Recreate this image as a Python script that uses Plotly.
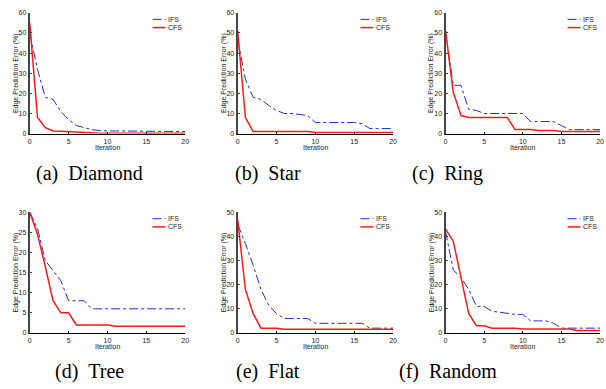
import plotly.graph_objects as go

W, H = 606, 389

iterations = list(range(21))

captions = ["(a)\u00a0\u00a0Diamond", "(b)\u00a0\u00a0Star", "(c)\u00a0\u00a0Ring",
            "(d)\u00a0\u00a0Tree", "(e)\u00a0\u00a0Flat", "(f)\u00a0\u00a0Random"]

ifs_diamond = [50, 32, 18, 17, 11, 7, 4, 3, 2, 1.5, 1.3, 1.3, 1.3, 1.3, 1.3, 1.3, 1.3, 1.3, 1.2, 1.1, 1]
cfs_diamond = [55, 8, 3, 1.3, 1.2, 1, 0.5, 0.3, 0.2, 0.2, 0.2, 0.2, 0.2, 0.2, 0.2, 0.2, 0.2, 0.2, 0.2, 0.2, 0.2]

ifs_star = [47, 27, 18, 17, 14, 11.5, 10, 10, 9.5, 9, 5.5, 5.5, 5.5, 5.5, 5.5, 5.5, 5, 2.5, 2.5, 2.5, 2.5]
cfs_star = [51, 8, 1, 1, 1, 1, 1, 1, 1, 1, 0.5, 0.5, 0.5, 0.5, 0.5, 0.5, 0.5, 0.5, 0.5, 0.5, 0.5]

ifs_ring = [50, 24, 24, 12, 11.5, 10, 10, 10, 10, 10, 10, 6, 6, 6, 6, 4, 2, 2, 2, 2, 2]
cfs_ring = [51, 20.5, 9, 8, 8, 8, 8, 8, 8, 2, 2, 2, 1.5, 1.5, 1.5, 1, 1, 1, 1, 1, 1]

ifs_tree = [30, 26, 18, 15.5, 13, 8, 8, 8, 6, 6, 6, 6, 6, 6, 6, 6, 6, 6, 6, 6, 6]
cfs_tree = [30, 24.5, 16.5, 8, 5, 5, 2, 2, 2, 2, 2, 1.7, 1.7, 1.7, 1.7, 1.7, 1.7, 1.7, 1.7, 1.7, 1.7]

ifs_flat = [45, 37, 28, 18, 11.5, 8, 6, 6, 6, 6, 4, 4, 4, 4, 4, 4, 4, 2, 2, 2, 2]
cfs_flat = [47, 18, 8, 2, 2, 2, 1.5, 1.5, 1.5, 1.5, 1.5, 1.5, 1.5, 1.5, 1.5, 1.5, 1.5, 1.5, 1.5, 1.5, 1.5]

ifs_random = [42, 26, 23, 18, 11, 11, 9, 8.5, 8, 7.7, 7.7, 5, 5, 5, 4, 2, 2, 2, 2, 2, 2]
cfs_random = [43, 38, 23, 8, 3, 3, 2, 2, 2, 2, 1.6, 1.6, 1.6, 1.6, 1.6, 1.6, 1.6, 1, 1, 1, 1]

ifs_series = [ifs_diamond, ifs_star, ifs_ring, ifs_tree, ifs_flat, ifs_random]
cfs_series = [cfs_diamond, cfs_star, cfs_ring, cfs_tree, cfs_flat, cfs_random]
y_max = [60, 60, 60, 30, 50, 50]
y_dtick = [10, 10, 10, 5, 10, 10]
x_ticks = [0, 5, 10, 15, 20]

# layout in pixels
col_px = [(28, 185), (238, 395), (448, 604)]
row_px = [(9, 132), (212, 335)]
caption_x = [88, 269, 450]
caption_y = [173, 374]
xtitle_y = [146, 349]

def px(x):
    return x / W

def py(y):
    return 1 - y / H

BLUE = "#1f2fd0"
RED = "#ff1a1a"
SANS = "Liberation Sans, Arial, sans-serif"
SERIF = "Liberation Serif, Times New Roman, serif"

fig = go.Figure()
annotations = []
shapes = []

for i in range(6):
    r, c = divmod(i, 3)
    n = i + 1
    xa = "x" if n == 1 else f"x{n}"
    ya = "y" if n == 1 else f"y{n}"
    fig.add_trace(go.Scatter(x=iterations, y=ifs_series[i], mode="lines",
                             line=dict(color=BLUE, width=1, dash="dashdot"),
                             xaxis=xa, yaxis=ya, showlegend=False, cliponaxis=True))
    fig.add_trace(go.Scatter(x=iterations, y=cfs_series[i], mode="lines",
                             line=dict(color=RED, width=1.5),
                             xaxis=xa, yaxis=ya, showlegend=False, cliponaxis=True))
    x0, x1 = col_px[c]
    y0, y1 = row_px[r]
    xkey = "xaxis" if n == 1 else f"xaxis{n}"
    ykey = "yaxis" if n == 1 else f"yaxis{n}"
    fig.update_layout(**{
        xkey: dict(domain=[px(x0), px(x1)], range=[0, 20], tickvals=x_ticks,
                   anchor=ya, showgrid=False, zeroline=False, showline=True,
                   linecolor="black", linewidth=1.5, ticks="inside", ticklen=2,
                   tickcolor="black", tickfont=dict(family=SANS, size=7, color="#222"),
                   fixedrange=True),
        ykey: dict(domain=[py(y1), py(y0)], range=[0, y_max[i]], dtick=y_dtick[i],
                   anchor=xa, showgrid=False, zeroline=False, showline=True,
                   linecolor="#444", linewidth=2, ticks="inside", ticklen=2,
                   tickcolor="#444", tickfont=dict(family=SANS, size=7, color="#222"),
                   fixedrange=True),
    })
    # axis titles
    annotations.append(dict(x=px(x0 - 14), y=py((y0 + y1) / 2), xref="paper", yref="paper",
                            text="Edge Prediction Error (%)", textangle=-90, showarrow=False,
                            font=dict(family=SANS, size=7, color="#222"),
                            xanchor="center", yanchor="middle"))
    annotations.append(dict(x=px((x0 + x1) / 2), y=py(xtitle_y[r]), xref="paper", yref="paper",
                            text="Iteration", showarrow=False,
                            font=dict(family=SANS, size=7, color="#222"),
                            xanchor="center", yanchor="middle"))
    # caption
    annotations.append(dict(x=px(caption_x[c]), y=py(caption_y[r]), xref="paper", yref="paper",
                            text=captions[i], showarrow=False,
                            font=dict(family=SERIF, size=20, color="black"),
                            xanchor="center", yanchor="middle"))
    # legend
    for lbl, color, dash, width, ly in [("IFS", BLUE, "dashdot", 1, 0.946),
                                        ("CFS", RED, "solid", 1.5, 0.878)]:
        shapes.append(dict(type="line", xref=f"{xa} domain", yref=f"{ya} domain",
                           x0=0.79, x1=0.873, y0=ly, y1=ly,
                           line=dict(color=color, width=width, dash=dash)))
        annotations.append(dict(x=0.879, y=ly, xref=f"{xa} domain", yref=f"{ya} domain",
                                text=lbl, showarrow=False, xanchor="left", yanchor="middle",
                                font=dict(family=SANS, size=7, color="#222")))

fig.update_layout(width=W, height=H, margin=dict(l=0, r=0, t=0, b=0),
                  paper_bgcolor="white", plot_bgcolor="white",
                  annotations=annotations, shapes=shapes, showlegend=False)

fig.write_html("out.html", config={"displayModeBar": False, "staticPlot": True})

# remove the browser's default page margin so the figure sits at the window's corner
with open("out.html", "r", encoding="utf-8") as f:
    html = f.read()
html = html.replace("<head>", "<head><style>html,body{margin:0;padding:0;overflow:hidden;}</style>", 1)
with open("out.html", "w", encoding="utf-8") as f:
    f.write(html)
